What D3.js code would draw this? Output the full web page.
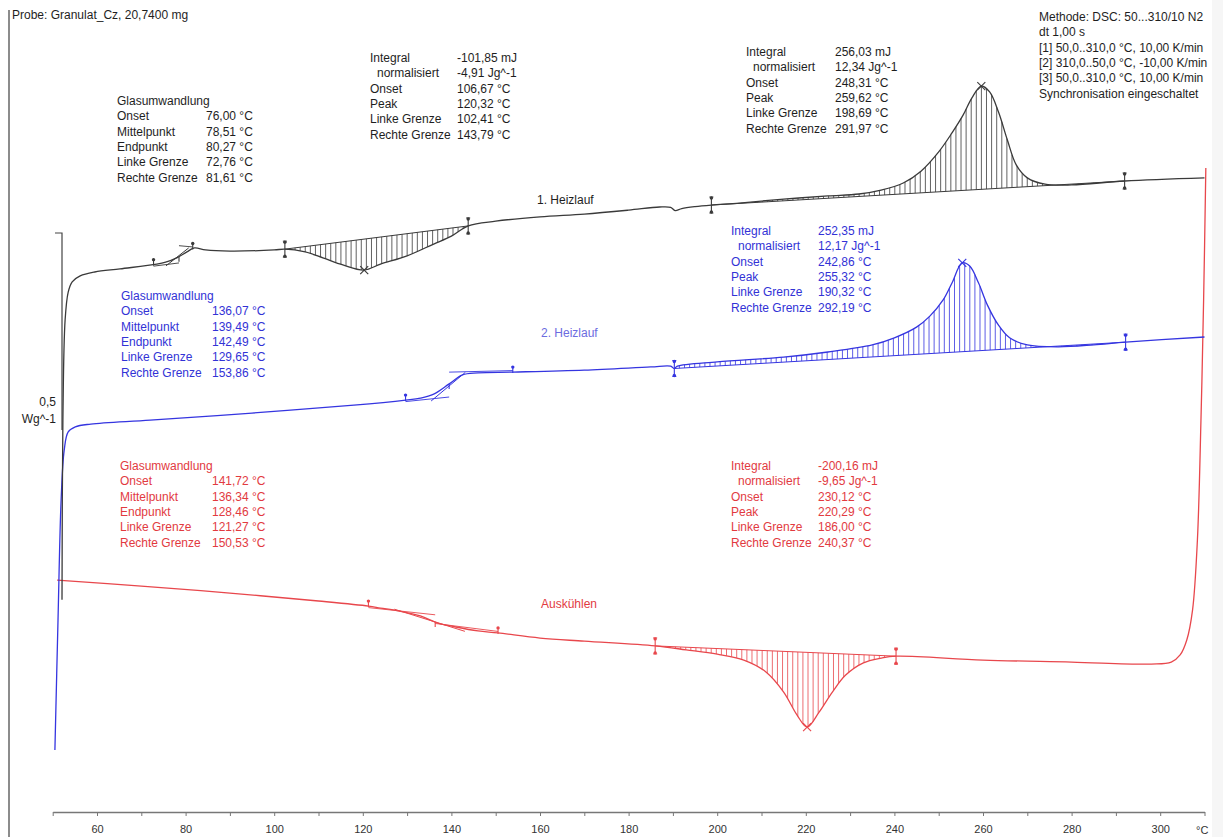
<!DOCTYPE html>
<html>
<head>
<meta charset="utf-8">
<script src="https://cdn.jsdelivr.net/npm/d3@7"></script>
<style>
  body { margin: 0; background: #fff; }
  svg text { font-family: "Liberation Sans", Arial, sans-serif; font-size: 12px; }
</style>
</head>
<body>
<svg id="chart" width="1223" height="837"></svg>
<script>
// ---- DSC runs: temperature (°C) and heat flow (W/g, arbitrary offset per run) ----
const heat1Temp = [52.1, 52.3, 52.8, 53.5, 54.4, 56.2, 59.5, 65.2, 73.5, 75.5, 78.0, 80.3, 82.0, 84.5, 90, 100, 102.4,
  107, 111, 115.5, 120.3, 124, 130, 136, 140, 143.8, 150, 160, 170, 180, 187, 189.5, 190.5, 192, 195, 198.7,
  205, 215, 225, 232, 237, 242, 246, 250, 253, 255.5, 257.5, 259.6, 261.5, 263.5, 265.5, 267.5, 270, 274, 280, 292, 310];
const heat1Flow = [-0.431, 0.025, 0.279, 0.350, 0.376, 0.391, 0.401, 0.409, 0.421, 0.426, 0.437, 0.452, 0.462, 0.457, 0.454, 0.457, 0.459,
  0.452, 0.437, 0.419, 0.406, 0.421, 0.442, 0.472, 0.492, 0.518, 0.530, 0.541, 0.548, 0.558, 0.566, 0.565, 0.557, 0.562, 0.567, 0.571,
  0.576, 0.586, 0.594, 0.599, 0.609, 0.627, 0.657, 0.706, 0.754, 0.799, 0.843, 0.873, 0.858, 0.807, 0.736, 0.673, 0.640, 0.624, 0.622, 0.632, 0.640];

const heat2Temp = [50.5, 51.2, 51.9, 52.6, 53.5, 55.1, 58.6, 72, 95, 118, 129.7, 133, 136, 139.5, 142.5, 146, 153.9, 170, 185, 189.5, 190.3, 191,
  200, 215, 225, 235, 240, 245, 248, 251, 253, 255.3, 257, 259, 261, 263.5, 266, 270, 277, 285, 292.2, 310];
const heat2Flow = [-0.812, -0.482, -0.178, -0.051, -0.005, 0.008, 0.015, 0.025, 0.043, 0.063, 0.076, 0.081, 0.091, 0.117, 0.140, 0.145, 0.147, 0.152, 0.160, 0.162, 0.156, 0.162,
  0.173, 0.185, 0.198, 0.216, 0.234, 0.261, 0.289, 0.330, 0.373, 0.424, 0.416, 0.373, 0.317, 0.266, 0.234, 0.216, 0.211, 0.216, 0.223, 0.236];

const coolTemp = [310.3, 309.8, 309.2, 308.4, 307.3, 306, 304.5, 302.5, 298, 280, 260, 240.4, 237, 233, 229, 226, 223, 220.3, 218, 215, 211, 206,
  200, 193, 186, 170, 160, 150.5, 146, 141, 137, 133, 128, 124, 121.3, 110, 90, 70, 51];
const coolFlow = [0.665, 0.330, 0.025, -0.279, -0.457, -0.533, -0.571, -0.589, -0.594, -0.589, -0.584, -0.574, -0.579, -0.591, -0.622, -0.665, -0.716, -0.754, -0.723, -0.665, -0.614, -0.584,
  -0.569, -0.558, -0.548, -0.536, -0.528, -0.515, -0.510, -0.500, -0.490, -0.472, -0.459, -0.452, -0.447, -0.434, -0.414, -0.396, -0.381];

// ---- evaluation results ----
const tgRowLabels = ["Onset", "Mittelpunkt", "Endpunkt", "Linke Grenze", "Rechte Grenze"];
const peakRowLabels = ["Integral", "normalisiert", "Onset", "Peak", "Linke Grenze", "Rechte Grenze"];

// [onset, mid, end, left, right]
const heat1Tg = [76.00, 78.51, 80.27, 72.76, 81.61];
const heat2Tg = [136.07, 139.49, 142.49, 129.65, 153.86];
const coolTg = [141.72, 136.34, 128.46, 121.27, 150.53];
// [integral mJ, normalised J/g, onset, peak, left, right]
const heat1Cold = [-101.85, -4.91, 106.67, 120.32, 102.41, 143.79];
const heat1Melt = [256.03, 12.34, 248.31, 259.62, 198.69, 291.97];
const heat2Melt = [252.35, 12.17, 242.86, 255.32, 190.32, 292.19];
const coolCryst = [-200.16, -9.65, 230.12, 220.29, 186.00, 240.37];

const axisTicks = [50, 60, 70, 80, 90, 100, 110, 120, 130, 140, 150, 160, 170, 180, 190, 200, 210, 220, 230, 240, 250, 260, 270, 280, 290, 300, 310];
const methodLines = ["Methode: DSC: 50...310/10 N2", "dt 1,00 s", "[1] 50,0..310,0 °C, 10,00 K/min",
  "[2] 310,0..50,0 °C, -10,00 K/min", "[3] 50,0..310,0 °C, 10,00 K/min", "Synchronisation eingeschaltet"];
const sampleTitle = "Probe: Granulat_Cz, 20,7400 mg";
const runNames = ["1. Heizlauf", "2. Heizlauf", "Auskühlen"];

// ---- styling ----
const C_BLACK = "#3a3a3a", C_BLUE = "#3535e0", C_RED = "#e8474c";
const T_BLACK = "#1e1e1e", T_BLUE = "#3232d6", T_RED = "#e23a3f";

const svg = d3.select("#chart");
const x = d3.scaleLinear().domain([50, 310]).range([52.7, 1204.5]);
const y = d3.scaleLinear().domain([0, 0.5]).range([430, 233]);

const loc = d3.formatLocale({ decimal: ",", thousands: ".", grouping: [3], currency: ["", "€"], minus: "-" });
const f2 = loc.format(".2f");

// faint strip on the right edge and frame line on the left
svg.append("rect").attr("x", 1212).attr("y", 0).attr("width", 11).attr("height", 837).attr("fill", "#f6f6f6");
svg.append("line").attr("x1", 9).attr("x2", 9).attr("y1", 10).attr("y2", 837).attr("stroke", "#666").attr("stroke-width", 1.5);

svg.append("text").attr("x", 12).attr("y", 19).attr("fill", T_BLACK).text(sampleTitle);

// ---- x axis ----
const axis = d3.axisBottom(x).tickValues(axisTicks).tickSize(4).tickSizeOuter(0)
  .tickFormat(d => (d % 20 === 0 && d <= 300) ? d : "");
const gAxis = svg.append("g").attr("transform", "translate(0,812)").call(axis);
gAxis.select(".domain").attr("stroke", "#777").attr("stroke-width", 1.6);
gAxis.selectAll(".tick line").attr("stroke", "#777");
gAxis.selectAll(".tick text").attr("y", 13).attr("fill", "#333")
  .style("font-family", "'Liberation Sans', Arial, sans-serif").style("font-size", "11px");
svg.append("text").attr("x", 1196).attr("y", 834).attr("fill", "#333").style("font-size", "11px").text("°C");

// ---- y scale bar: 0,5 W/g ----
svg.append("path")
  .attr("d", `M55,${y(0.5)}H62V${y(0)}`)
  .attr("fill", "none").attr("stroke", "#444").attr("stroke-width", 1.2);
svg.append("text").attr("x", 56).attr("y", 406).attr("text-anchor", "end").attr("fill", T_BLACK).text("0,5");
svg.append("text").attr("x", 56).attr("y", 423).attr("text-anchor", "end").attr("fill", T_BLACK).text("Wg^-1");

// ---- curves ----
const line = d3.line().x(d => x(d[0])).y(d => y(d[1])).curve(d3.curveCatmullRom.alpha(0.5));

function drawRun(temps, flows, color) {
  const data = temps.map((t, i) => [t, flows[i]]);
  const p = svg.append("path").datum(data).attr("d", line)
    .attr("fill", "none").attr("stroke", color).attr("stroke-width", 1.3);
  const node = p.node(), L = node.getTotalLength(), pts = [];
  for (let i = 0; i <= 4000; i++) { const q = node.getPointAtLength(L * i / 4000); pts.push([q.x, q.y]); }
  return pts;
}
function yAt(pts, px) {
  for (let i = 0; i < pts.length - 1; i++) {
    const a = pts[i], b = pts[i + 1];
    if ((a[0] - px) * (b[0] - px) <= 0 && a[0] !== b[0]) return a[1] + (b[1] - a[1]) * (px - a[0]) / (b[0] - a[0]);
  }
  return null;
}

function seg(g, x1, y1, x2, y2, color, w) {
  g.append("line").attr("x1", x1).attr("y1", y1).attr("x2", x2).attr("y2", y2)
    .attr("stroke", color).attr("stroke-width", w || 1);
}
function dot(g, cx, cy, color) { g.append("circle").attr("cx", cx).attr("cy", cy).attr("r", 1.7).attr("fill", color); }

// integration limit marker
function limitMark(g, pts, t, color) {
  const px = x(t), py = yAt(pts, px);
  seg(g, px, py - 8, px, py + 8, color, 1.1);
  dot(g, px, py - 7, color); dot(g, px, py + 7, color);
  seg(g, px - 2, py - 8, px + 2, py - 8, color, 1);
  seg(g, px - 2, py + 8, px + 2, py + 8, color, 1);
}
// peak evaluation: hatched area between curve and straight baseline
function peakEval(pts, vals, color) {
  const g = svg.append("g");
  const [, , , peak, left, right] = vals;
  const xl = x(left), xr = x(right), yl = yAt(pts, xl), yr = yAt(pts, xr);
  const base = px => yl + (yr - yl) * (px - xl) / (xr - xl);
  for (let t = left + 1.15; t < right; t += 1.15) {
    const px = x(t);
    seg(g, px, base(px), px, yAt(pts, px), color, 0.8);
  }
  seg(g, xl, yl, xr, yr, color, 1);
  limitMark(g, pts, left, color); limitMark(g, pts, right, color);
  const px = x(peak), py = yAt(pts, px);
  seg(g, px - 4, py - 4, px + 4, py + 4, color, 1.1);
  seg(g, px - 4, py + 4, px + 4, py - 4, color, 1.1);
}
// glass transition construction: baselines, inflection tangent and limit marks
function tgEval(pts, vals, color) {
  const g = svg.append("g");
  const [onset, mid, end, left, right] = vals;
  const lo = Math.min(left, right), hi = Math.max(left, right);
  const P = t => [x(t), yAt(pts, x(t))];
  const a0 = P(lo - 6), a1 = P(lo), b0 = P(hi), b1 = P(hi + 6);
  const s1 = (a1[1] - a0[1]) / (a1[0] - a0[0]), s2 = (b1[1] - b0[1]) / (b1[0] - b0[0]);
  const pre = px => a1[1] + s1 * (px - a1[0]), post = px => b0[1] + s2 * (px - b0[0]);
  seg(g, a1[0], pre(a1[0]) + 1.5, x(mid), pre(x(mid)) + 1.5, color, 0.9);
  seg(g, x(mid), post(x(mid)) - 1.5, b0[0], post(b0[0]) - 1.5, color, 0.9);
  const ta = Math.min(onset, end), tb = Math.max(onset, end);
  const A = [x(ta), pre(x(ta))], B = [x(tb), post(x(tb))];
  const dx = (B[0] - A[0]) * 0.1, dy = (B[1] - A[1]) * 0.1;
  seg(g, A[0] - dx, A[1] - dy + 1.5, B[0] + dx, B[1] + dy + 1.5, color, 1);
  [left, right].forEach(t => {
    const [px, py] = P(t);
    seg(g, px, py - 6, px, py + 1, color, 1.1); dot(g, px, py - 5, color);
  });
  const [mx, my] = P(mid);
  seg(g, mx, my, mx, my + 5, color, 1.1);
}

const ptsCool = drawRun(coolTemp, coolFlow, C_RED);
const ptsHeat2 = drawRun(heat2Temp, heat2Flow, C_BLUE);
const ptsHeat1 = drawRun(heat1Temp, heat1Flow, C_BLACK);

peakEval(ptsHeat1, heat1Cold, C_BLACK);
peakEval(ptsHeat1, heat1Melt, C_BLACK);
peakEval(ptsHeat2, heat2Melt, C_BLUE);
peakEval(ptsCool, coolCryst, C_RED);
tgEval(ptsHeat1, heat1Tg, C_BLACK);
tgEval(ptsHeat2, heat2Tg, C_BLUE);
tgEval(ptsCool, coolTg, C_RED);

// ---- result tables ----
const LH = 15.3;
function tgTable(x0, xv, y0, vals, color) {
  const g = svg.append("g").attr("fill", color);
  g.append("text").attr("x", x0).attr("y", y0).text("Glasumwandlung");
  tgRowLabels.forEach((lab, i) => {
    g.append("text").attr("x", x0).attr("y", y0 + LH * (i + 1)).text(lab);
    g.append("text").attr("x", xv).attr("y", y0 + LH * (i + 1)).text(f2(vals[i]) + " °C");
  });
}
function peakTable(x0, xv, y0, vals, color) {
  const g = svg.append("g").attr("fill", color);
  const units = [" mJ", " Jg^-1", " °C", " °C", " °C", " °C"];
  peakRowLabels.forEach((lab, i) => {
    g.append("text").attr("x", i === 1 ? x0 + 7 : x0).attr("y", y0 + LH * i).text(lab);
    g.append("text").attr("x", xv).attr("y", y0 + LH * i).text(f2(vals[i]) + units[i]);
  });
}
tgTable(117, 206, 105, heat1Tg, T_BLACK);
peakTable(370, 457, 62, heat1Cold, T_BLACK);
peakTable(746, 835, 56, heat1Melt, T_BLACK);
tgTable(121, 212, 300, heat2Tg, T_BLUE);
peakTable(731, 818, 235, heat2Melt, T_BLUE);
tgTable(120, 212, 470, coolTg, T_RED);
peakTable(731, 818, 470, coolCryst, T_RED);

methodLines.forEach((s, i) => svg.append("text").attr("x", 1039).attr("y", 21 + LH * i).attr("fill", T_BLACK).text(s));

svg.append("text").attr("x", 537).attr("y", 204).attr("fill", T_BLACK).text(runNames[0]);
svg.append("text").attr("x", 541).attr("y", 337).attr("fill", "#6c6ce0").text(runNames[1]);
svg.append("text").attr("x", 541).attr("y", 608).attr("fill", T_RED).text(runNames[2]);
</script>
</body>
</html>
